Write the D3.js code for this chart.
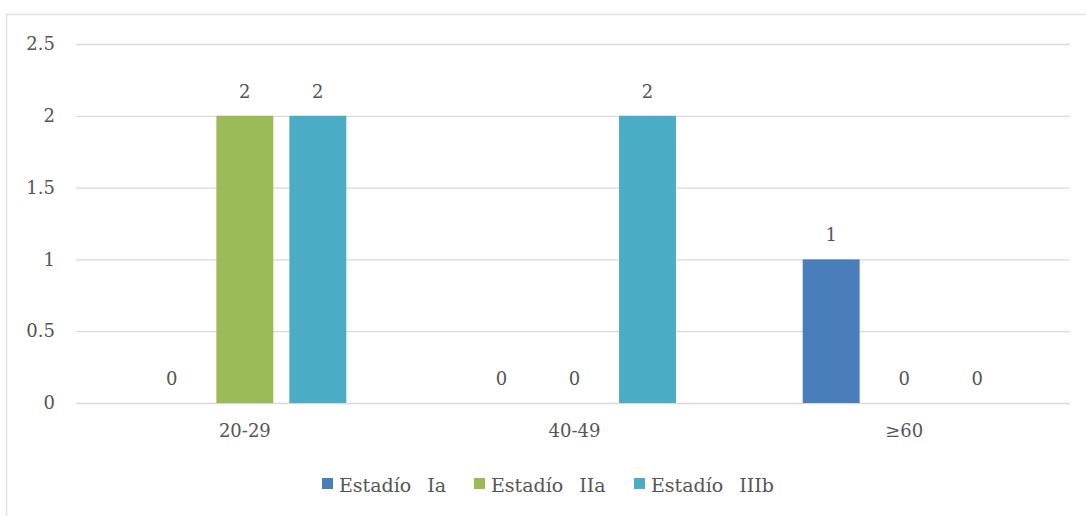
<!DOCTYPE html>
<html>
<head>
<meta charset="utf-8">
<script src="https://cdn.jsdelivr.net/npm/d3@7/dist/d3.min.js"></script>
<style>
  html, body { margin: 0; padding: 0; background: #fff; }
  svg { display: block; }
  text { font-family: "DejaVu Serif", "Liberation Serif", serif; fill: #555; }
</style>
</head>
<body>
<svg id="chart" width="1086" height="516"></svg>
<script>
// Age groups and stage counts
const categories = ["20-29", "40-49", "≥60"];
const seriesNames = ["Estadío Ia", "Estadío IIa", "Estadío IIIb"];
const stageIa = [0, 0, 1];
const stageIIa = [2, 0, 0];
const stageIIIb = [2, 2, 0];
const yTicks = [0, 0.5, 1, 1.5, 2, 2.5];
const colors = ["#4a7ebb", "#9bbb59", "#4bacc6"];

const series = [stageIa, stageIIa, stageIIIb];

const svg = d3.select("#chart");

// Outer frame (runs off the right and bottom edges)
svg.append("rect")
  .attr("x", 6.5).attr("y", 14.5)
  .attr("width", 1100).attr("height", 520)
  .attr("fill", "#fff").attr("stroke", "#e3e3e3").attr("stroke-width", 1.5);

const plot = { left: 80, right: 1069, top: 44, bottom: 403 };

const x = d3.scaleBand().domain(categories).range([plot.left, plot.right]);
// three bars of ~57px, 73px apart, centred in each band
const half = 109.5;
const x1 = d3.scaleBand().domain(d3.range(seriesNames.length))
  .range([x.bandwidth() / 2 - half, x.bandwidth() / 2 + half])
  .paddingInner(0.22).paddingOuter(0.11);
const y = d3.scaleLinear().domain([0, 2.5]).range([plot.bottom, plot.top]);

// Gridlines
svg.append("g").selectAll("line").data(yTicks).join("line")
  .attr("x1", plot.left - 4).attr("x2", plot.right + 1)
  .attr("y1", d => y(d) + 0.5).attr("y2", d => y(d) + 0.5)
  .attr("stroke", "#d9d9d9").attr("stroke-width", 1.3);

// Value axis labels
const yAxis = d3.axisLeft(y).tickValues(yTicks).tickSize(0).tickPadding(0)
  .tickFormat(d => String(d));
const gy = svg.append("g").attr("transform", `translate(55,0)`).call(yAxis);
gy.select(".domain").remove();
gy.selectAll("text").style("font-size", "18px").attr("fill", "#555");

// Bars and value labels
const groups = svg.append("g").selectAll("g").data(categories).join("g")
  .attr("transform", c => `translate(${x(c)},0)`);

groups.each(function(c, ci) {
  const g = d3.select(this);
  series.forEach((vals, si) => {
    const v = vals[ci];
    const bx = x1(si);
    if (v > 0) {
      g.append("rect")
        .attr("x", bx).attr("width", x1.bandwidth())
        .attr("y", y(v)).attr("height", y(0) - y(v))
        .attr("fill", colors[si]);
    }
    g.append("text")
      .attr("x", bx + x1.bandwidth() / 2)
      .attr("y", y(v) - 18)
      .attr("text-anchor", "middle")
      .style("font-size", "18px")
      .text(v);
  });
});

// Category labels
const xAxis = d3.axisBottom(x).tickSize(0).tickPadding(21);
const gx = svg.append("g").attr("transform", `translate(0,${plot.bottom})`).call(xAxis);
gx.select(".domain").remove();
gx.selectAll("text").style("font-size", "18px").attr("fill", "#555");

// Legend
const swatchX = [322, 474, 634];
const legend = svg.append("g");
seriesNames.forEach((name, i) => {
  legend.append("rect")
    .attr("x", swatchX[i]).attr("y", 478)
    .attr("width", 11).attr("height", 11)
    .attr("fill", colors[i]);
  legend.append("text")
    .attr("x", swatchX[i] + 17).attr("y", 492)
    .style("font-size", "19px")
    .style("word-spacing", "10px")
    .text(name);
});
</script>
</body>
</html>
